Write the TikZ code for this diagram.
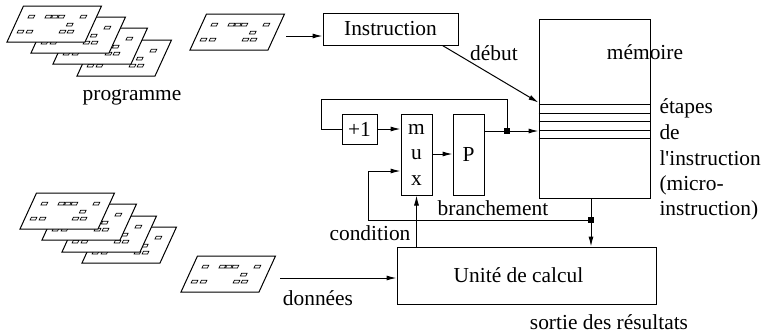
\documentclass[tikz,border=0pt]{standalone}
\usepackage{fontspec}
\setmainfont{Liberation Serif}
\usetikzlibrary{arrows.meta}
\begin{document}
\begin{tikzpicture}[x=0.5pt,y=-0.5pt,
  line width=0.5pt,
  every node/.style={font=\fontsize{10.7}{12.75}\selectfont},
  box/.style={draw, inner sep=0pt},
  lbl/.style={inner sep=0pt},
  arr/.style={-{Latex[length=5pt,width=2.5pt]}},
  junction/.style={fill, inner sep=0pt, minimum size=3pt},
  pics/card/.style={code={
    \draw[fill=white] (0,0) -- (78,0) -- (94.5,-36) -- (16.5,-36) -- cycle;
    \foreach \u/\v in {6/9,15/9,48/9,56/9,52/16,10/24,27/24,33.5/24,40/24,62/24}
      \draw[line width=0.35pt] ({\u+0.458*\v},{-\v}) -- ++(5.5,0) -- ++(1.3,-2.8) -- ++(-5.5,0) -- cycle;
  }}]
\useasboundingbox (0,0) rectangle (762,333);

% program deck
\pic at (77,76) {card};
\pic at (53,64) {card};
\pic at (31,53) {card};
\pic at (7,42) {card};
\node[lbl] (prog) at (132,97) {programme};

% data deck
\pic at (82,263) {card};
\pic at (62,252) {card};
\pic at (42,240) {card};
\pic at (20,229) {card};

% current instruction and current data
\pic at (190,50) {card};
\pic at (181,292) {card};
\node[lbl] (donnees) at (318,298) {données};

% blocks
\node[box, minimum width=67.5pt, minimum height=16pt] (instr) at (390.5,29) {Instruction};
\node[box, minimum width=55.5pt, minimum height=89.5pt] (mem) at (594.5,108.5) {};
\node[lbl] (memlbl) at (645,52) {mémoire};
\node[box, minimum width=17.5pt, minimum height=15pt] (plus) at (359.5,129) {+1};
\node[box, minimum width=15.5pt, minimum height=40.5pt, align=center] (mux) at (416.5,154.5) {m\\u\\x};
\node[box, minimum width=15.5pt, minimum height=40.5pt] (P) at (468.5,154.5) {P};
\node[box, minimum width=129.5pt, minimum height=28.5pt] (unit) at (526.5,275.5) {Unité de calcul\hspace*{8pt}};

% micro-instruction rows of the memory
\foreach \d in {43,47.5,51.5,56,60}
  \draw ([yshift=-\d pt]mem.north west) -- ([yshift=-\d pt]mem.north east);

% labels
\node[lbl] (debut) at (494,53) {début};
\node[lbl, anchor=base west] (et1) at (659,113) {étapes};
\node[lbl, anchor=base west] (et2) at (659,139) {de};
\node[lbl, anchor=base west] (et3) at (659,165) {l\textquotesingle instruction};
\node[lbl, anchor=base west] (et4) at (659,190) {(micro-};
\node[lbl, anchor=base west] (et5) at (659,215) {instruction)};
\node[lbl] (branch) at (493,208) {branchement};
\node[lbl] (cond) at (370,233) {condition};
\node[lbl] (sortie) at (609,322) {sortie des résultats};

% connectors
\coordinate (isrc) at (286,36);
\draw[arr] (isrc) -- (instr.west |- isrc);
\draw[arr] ([xshift=-8pt]instr.south east) -- ([yshift=-42pt]mem.north west);

\coordinate (dsrc) at (280,278);
\draw[arr] (dsrc) -- (unit.west |- dsrc);

\coordinate (j1) at (507,131);
\coordinate (loop) at (321,99);
\draw (P.east |- j1) -- (j1);
\draw[arr] (j1) -- (mem.west |- j1);
\draw (j1) |- (loop) |- (plus.west);
\draw[arr] (plus.east) -- (mux.west |- plus.east);
\draw[arr] (mux.east |- 0,154) -- (P.west |- 0,154);

\coordinate (j2) at (591,220);
\coordinate (cnd) at (368,171);
\draw (mem.south -| j2) -- (j2);
\draw[arr] (j2) -- (unit.north -| j2);
\draw[arr] (j2) -| (cnd) -- (mux.west |- cnd);
\draw[arr] (mux.south |- unit.north) -- (mux.south);

\node[junction] at (j1) {};
\node[junction] at (j2) {};
\end{tikzpicture}
\end{document}
